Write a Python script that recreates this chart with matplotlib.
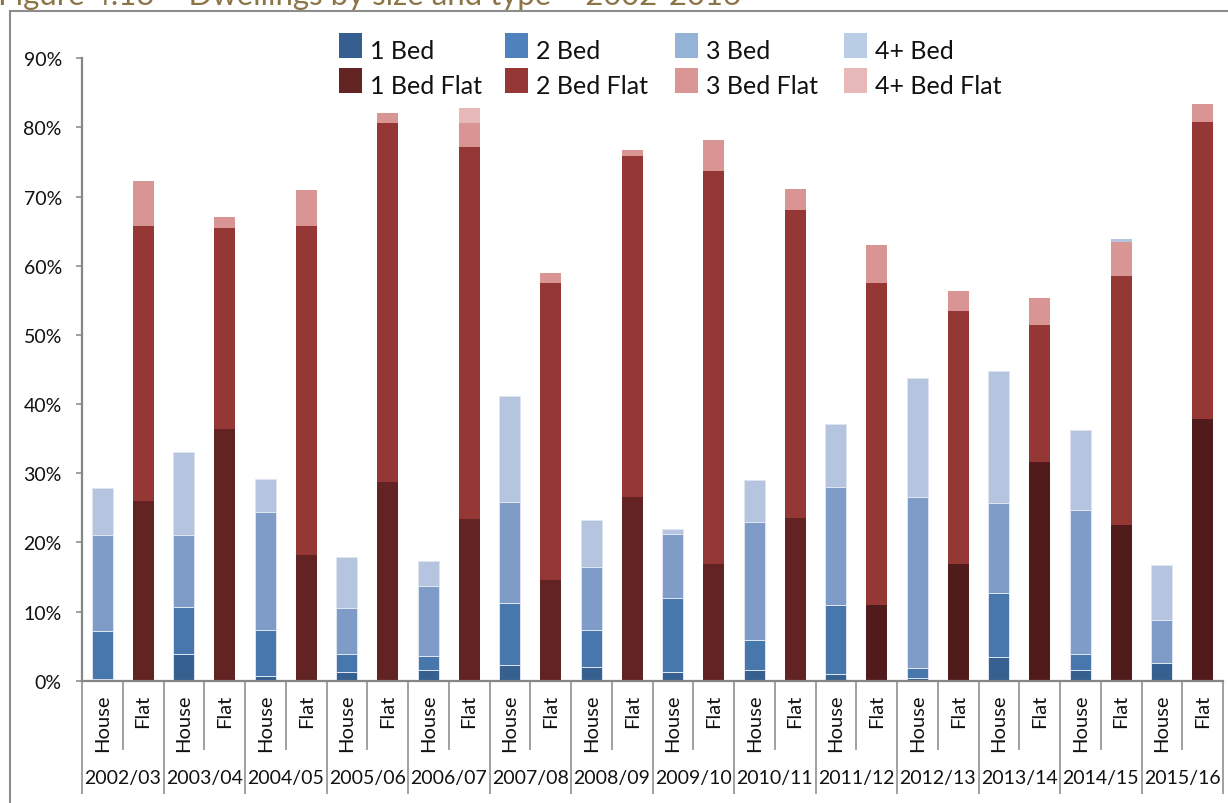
import matplotlib
matplotlib.use("Agg")

import numpy as np
import matplotlib.pyplot as plt
from matplotlib.patches import Rectangle
from matplotlib.ticker import MultipleLocator, FuncFormatter
from matplotlib.transforms import blended_transform_factory

plt.rcParams['font.family'] = ['Lato', 'DejaVu Sans']

# share of completions (%) by year, dwelling type and bedroom count
years = ['2002/03', '2003/04', '2004/05', '2005/06', '2006/07', '2007/08', '2008/09',
         '2009/10', '2010/11', '2011/12', '2012/13', '2013/14', '2014/15', '2015/16']
bar_types = ['House', 'Flat']

house_1bed = [0.3, 3.9, 0.7, 1.3, 1.5, 2.2, 2.0, 1.3, 1.5, 0.9, 0.4, 3.4, 1.6, 2.5]
house_2bed = [6.9, 6.8, 6.7, 2.6, 2.1, 9.1, 5.4, 10.6, 4.4, 10.1, 1.4, 9.3, 2.3, 0.0]
house_3bed = [13.9, 10.4, 17.0, 6.6, 10.1, 14.5, 9.0, 9.3, 17.0, 17.0, 24.8, 13.0, 20.8, 6.3]
house_4bed = [6.7, 11.9, 4.8, 7.4, 3.6, 15.4, 6.9, 0.7, 6.1, 9.1, 17.2, 19.1, 11.6, 7.9]

flat_1bed = [26.0, 36.4, 18.2, 28.7, 23.4, 14.6, 26.6, 16.9, 23.5, 11.0, 16.9, 31.6, 22.5, 37.8]
flat_2bed = [39.7, 29.1, 47.5, 52.0, 53.8, 42.9, 49.3, 56.8, 44.6, 46.5, 36.6, 19.8, 36.0, 43.0]
flat_3bed = [6.5, 1.5, 5.2, 1.4, 3.4, 1.4, 0.8, 4.5, 3.0, 5.5, 2.8, 3.9, 5.0, 2.6]
flat_4bed = [0.0, 0.0, 0.0, 0.0, 2.2, 0.0, 0.0, 0.0, 0.0, 0.0, 0.0, 0.0, 0.0, 0.0]
# "4+ Bed" entry recorded against flats (only in 2014/15)
flat_4bed_house = [0.0, 0.0, 0.0, 0.0, 0.0, 0.0, 0.0, 0.0, 0.0, 0.0, 0.0, 0.0, 0.3, 0.0]

labels = ['1 Bed', '2 Bed', '3 Bed', '4+ Bed',
          '1 Bed Flat', '2 Bed Flat', '3 Bed Flat', '4+ Bed Flat']

# colours used for the bars and for the legend keys
bar_cols = ['#36608f', '#4877ae', '#7f9cc8', '#b6c5df',
            '#632323', '#953735', '#d99594', '#e6b9b8']
key_cols = ['#365f91', '#4f81bd', '#95b3d7', '#b9cde5',
            '#632423', '#953735', '#d99694', '#e6b9b8']
flat1_shades = ['#632323'] * 9 + ['#521b1b'] * 5

W, H = 1228, 804
fig = plt.figure(figsize=(W / 100, H / 100), dpi=100)
ax = fig.add_axes([82 / W, 1 - 681.7 / H, (1223 - 82) / W, (681.7 - 59.3) / H])

n = len(years)
xh = np.arange(n) * 2
xf = xh + 1
bw = 0.52
grey = '#868686'
ink = '#111111'

# house bars
bottom = np.zeros(n)
for vals, col in zip([house_1bed, house_2bed, house_3bed, house_4bed], bar_cols[:4]):
    ax.bar(xh, vals, bw, bottom=bottom, color=col, edgecolor='#dfe6f1', linewidth=0.7)
    bottom += np.array(vals)

# flat bars
bottom = np.zeros(n)
for vals, col in zip([flat_1bed, flat_2bed, flat_3bed, flat_4bed], [flat1_shades] + bar_cols[5:]):
    ax.bar(xf, vals, bw, bottom=bottom, color=col, linewidth=0)
    bottom += np.array(vals)
ax.bar(xf, flat_4bed_house, bw, bottom=bottom, color=bar_cols[3], linewidth=0)

ax.set_xlim(-0.5, 2 * n - 0.5)
ax.set_ylim(0, 90)
ax.yaxis.set_major_locator(MultipleLocator(10))
ax.yaxis.set_major_formatter(FuncFormatter(lambda v, p: f'{v:.0f}%'))

for s in ['top', 'right']:
    ax.spines[s].set_visible(False)
for s in ['left', 'bottom']:
    ax.spines[s].set_color(grey)
    ax.spines[s].set_linewidth(1.6)

ax.tick_params(axis='y', direction='out', length=4.5, width=1.1, color=grey,
               labelsize=14, pad=10, labelcolor=ink)

# two-level category axis: dividers between bars, longer ones between years
ax.set_xticks(np.arange(-0.5, 2 * n, 2))
ax.set_xticks(np.arange(0.5, 2 * n, 2), minor=True)
ax.set_xticklabels([])
ax.tick_params(axis='x', which='major', direction='out', length=81, width=1.1, color=grey)
ax.tick_params(axis='x', which='minor', direction='out', length=50, width=1.1, color=grey)

tr = blended_transform_factory(ax.transData, ax.transAxes)
for i, yr in enumerate(years):
    for j, t in enumerate(bar_types):
        ax.text(2 * i + j, -0.021, t, transform=tr, rotation=90, ha='center', va='top',
                fontsize=14.5, color=ink)
    ax.text(2 * i + 0.5, -0.156, yr, transform=tr, ha='center', va='center',
            fontsize=14, color=ink)

# legend keys laid out in 4 columns x 2 rows (houses on top, flats below)
col_x = [339, 505, 675, 844]
row_top = [34, 69]
for k in range(8):
    x0 = col_x[k % 4]
    y0 = row_top[k // 4]
    fig.add_artist(Rectangle((x0 / W, 1 - (y0 + 25) / H), 23 / W, 25 / H,
                             transform=fig.transFigure, color=key_cols[k], linewidth=0))
    fig.text((x0 + 31) / W, 1 - (y0 + 25) / H, labels[k], ha='left', va='baseline',
             fontsize=18, color=ink)

# chart-area border (runs off the right and bottom edges)
fig.add_artist(Rectangle((10 / W, -0.1), 1.2, 1.1 - 12 / H, transform=fig.transFigure,
                         fill=False, edgecolor='#8c8c8c', linewidth=1.5))

fig.text(-2 / W, 1 - 5 / H, 'Figure 4.13 \u2013 Dwellings by size and type \u2013 2002-2016',
         ha='left', va='baseline', fontsize=22.4, color='#8b7446')

fig.savefig('out.png', dpi=100)
